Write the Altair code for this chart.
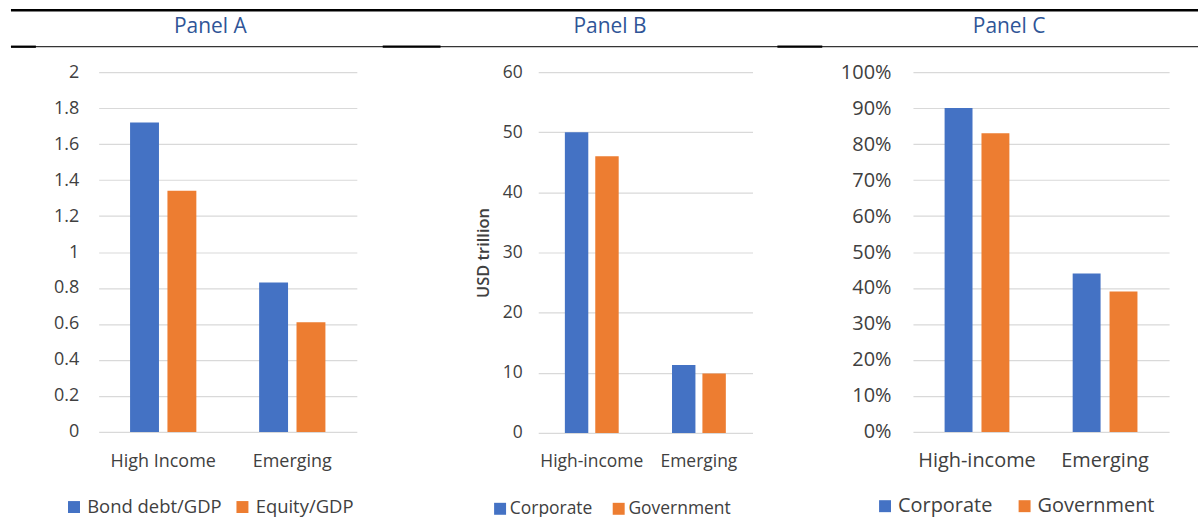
import altair as alt
import pandas as pd

# ---------------- data ----------------
cats_a = ["High Income", "Emerging"]
series_a = ["Bond debt/GDP", "Equity/GDP"]
bond_gdp = [1.72, 0.83]
equity_gdp = [1.34, 0.61]
ticks_a = [0, 0.2, 0.4, 0.6, 0.8, 1.0, 1.2, 1.4, 1.6, 1.8, 2.0]

cats_b = ["High-income", "Emerging"]
series_b = ["Corporate", "Government"]
corp_usd = [50.0, 11.3]
gov_usd = [46.0, 9.9]
ticks_b = [0, 10, 20, 30, 40, 50, 60]

cats_c = ["High-income", "Emerging"]
series_c = ["Corporate", "Government"]
corp_pct = [0.90, 0.44]
gov_pct = [0.83, 0.39]
ticks_c = [0, 0.1, 0.2, 0.3, 0.4, 0.5, 0.6, 0.7, 0.8, 0.9, 1.0]

titles = ["Panel A", "Panel B", "Panel C"]

BLUE = "#4472C4"
ORANGE = "#ED7D31"
GRID = "#D9D9D9"
TXT = "#404040"
TITLE_BLUE = "#2F5597"
FONT = "Open Sans"


def frame(cats, series, s1, s2):
    rows = []
    for i, c in enumerate(cats):
        rows.append({"cat": c, "series": series[0], "value": s1[i]})
        rows.append({"cat": c, "series": series[1], "value": s2[i]})
    return pd.DataFrame(rows)


def panel(df, cats, series, ticks, domain, fmt, fs, legfs, barw, off,
          ylabpad, xlabpad, legx, legy, legcolpad, legoff, ytitle=None,
          title_text="", title_x=0):
    yaxis_kw = dict(values=ticks, format=fmt, domain=False, ticks=False,
                    grid=True, gridColor=GRID, gridWidth=1.2,
                    labelFontSize=fs, labelColor=TXT, labelFont=FONT,
                    labelPadding=ylabpad)
    if ytitle:
        yaxis_kw.update(title=ytitle, titleFontSize=16.5, titleFont=FONT,
                        titleFontWeight=600, titleColor=TXT, titlePadding=11)
    else:
        yaxis_kw.update(title=None)
    enc = dict(
        x=alt.X("cat:N", sort=cats,
                scale=alt.Scale(paddingInner=0.5, paddingOuter=0.25),
                axis=alt.Axis(title=None, domain=False, ticks=False, labelAngle=0,
                              grid=False,
                              labelFontSize=fs, labelColor=TXT, labelFont=FONT,
                              labelPadding=xlabpad)),
        y=alt.Y("value:Q", scale=alt.Scale(domain=domain, nice=False),
                axis=alt.Axis(**yaxis_kw)),
        color=alt.Color("series:N", sort=series,
                        scale=alt.Scale(domain=series, range=[BLUE, ORANGE]),
                        legend=alt.Legend(title=None, orient="none",
                                          direction="horizontal",
                                          legendX=legx, legendY=legy,
                                          symbolType="square", symbolSize=144,
                                          symbolStrokeWidth=0,
                                          labelFontSize=legfs, labelFont=FONT,
                                          labelColor=TXT, labelOffset=legoff,
                                          columnPadding=legcolpad)),
    )
    base = alt.Chart(df)
    bars1 = base.transform_filter(alt.datum.series == series[0]).mark_bar(
        width=barw, xOffset=-off).encode(**enc)
    bars2 = base.transform_filter(alt.datum.series == series[1]).mark_bar(
        width=barw, xOffset=off).encode(**enc)
    head = alt.Chart(pd.DataFrame({"t": [title_text]})).mark_text(
        fontSize=21, font=FONT, color=TITLE_BLUE, align="center", baseline="middle"
    ).encode(text="t:N", x=alt.value(title_x), y=alt.value(-45))
    return [bars1, bars2, head]


df_a = frame(cats_a, series_a, bond_gdp, equity_gdp)
df_b = frame(cats_b, series_b, corp_usd, gov_usd)
df_c = frame(cats_c, series_c, corp_pct, gov_pct)

# Panel A: plot x 97..356
layers_a = panel(df_a, cats_a, series_a, ticks_a, [0, 2], ".1~f", 18, 18.5, 29, 18.75,
                 20, 21, -34, 427, 11, 4, title_text=titles[0], title_x=112)
one = pd.DataFrame({"k": [0]})
rule_top = alt.Chart(one).mark_rule(color="black", strokeWidth=2.5).encode(
    x=alt.value(-88), x2=alt.value(1103), y=alt.value(-62))
rule_mid = alt.Chart(one).mark_rule(color="black", strokeWidth=1).encode(
    x=alt.value(-88), x2=alt.value(1103), y=alt.value(-25.5))
seg1 = alt.Chart(one).mark_rule(color="black", strokeWidth=2.3).encode(
    x=alt.value(-88), x2=alt.value(-63), y=alt.value(-25.5))
seg2 = alt.Chart(one).mark_rule(color="black", strokeWidth=2.3).encode(
    x=alt.value(285), x2=alt.value(343), y=alt.value(-25.5))
seg3 = alt.Chart(one).mark_rule(color="black", strokeWidth=2.3).encode(
    x=alt.value(681), x2=alt.value(726), y=alt.value(-25.5))
panel_a = alt.layer(*layers_a, rule_top, rule_mid, seg1, seg2, seg3).properties(
    width=259, height=361)

# Panel B: plot x 538..753
layers_b = panel(df_b, cats_b, series_b, ticks_b, [0, 60], "d", 17.5, 17.5, 23.5, 15.25,
                 16, 20, -47, 429, 17, 1, ytitle="USD trillion",
                 title_text=titles[1], title_x=72)
panel_b = alt.layer(*layers_b).properties(width=215, height=362)

# Panel C: plot x 914..1171
layers_c = panel(df_c, cats_c, series_c, ticks_c, [0, 1], ".0%", 20, 20, 28, 18.5,
                 22, 19, -38, 425.5, 22, 3, title_text=titles[2], title_x=96.5)
panel_c = alt.layer(*layers_c).properties(width=257, height=361)

spacer1 = alt.Chart(one).mark_point(opacity=0).encode(
    x=alt.value(0), y=alt.value(0)).properties(width=182, height=10)
spacer2 = alt.Chart(one).mark_point(opacity=0).encode(
    x=alt.value(0), y=alt.value(0)).properties(width=161, height=10)

chart = alt.hconcat(panel_a, spacer1, panel_b, spacer2, panel_c,
                    spacing=0, bounds="flush").resolve_scale(
    color="independent").resolve_legend(color="independent").properties(
    padding={"left": 9, "top": 7.5, "right": 0, "bottom": 0},
    background="white",
).configure(font=FONT).configure_view(stroke=None)

chart.save("out.html", embed_options={"renderer": "svg", "actions": False})
